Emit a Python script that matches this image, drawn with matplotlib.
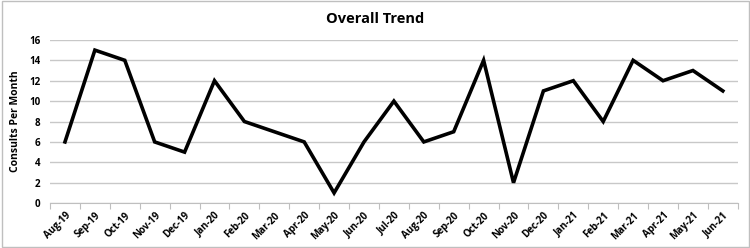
import matplotlib
matplotlib.use("Agg")
import matplotlib.pyplot as plt
from matplotlib.patches import Rectangle
import numpy as np

months = ["Aug-19", "Sep-19", "Oct-19", "Nov-19", "Dec-19", "Jan-20", "Feb-20", "Mar-20",
          "Apr-20", "May-20", "Jun-20", "Jul-20", "Aug-20", "Sep-20", "Oct-20", "Nov-20",
          "Dec-20", "Jan-21", "Feb-21", "Mar-21", "Apr-21", "May-21", "Jun-21"]
consults = [6, 15, 14, 6, 5, 12, 8, 7, 6, 1, 6, 10, 6, 7, 14, 2, 11, 12, 8, 14, 12, 13, 11]
yticks = [0, 2, 4, 6, 8, 10, 12, 14, 16]

plt.rcParams['font.family'] = ['Open Sans', 'DejaVu Sans']

fig = plt.figure(figsize=(7.5, 2.48), dpi=100)
ax = fig.add_axes([0.0667, 0.181, 0.917, 0.658])
x = np.arange(len(months))
ax.plot(x, consults, color='black', linewidth=2.6, solid_joinstyle='miter')
ax.set_xlim(-0.5, len(months) - 0.5)
ax.set_ylim(0, 16)
ax.set_yticks(yticks)
ax.set_yticklabels([str(v) for v in yticks], fontsize=7, fontweight='bold')
ax.set_xticks(x)
ax.set_xticklabels(months, rotation=45, ha='right', rotation_mode='anchor', fontsize=7, fontweight='bold')
ax.tick_params(axis='x', which='major', length=0, pad=5)
ax.set_xticks(np.arange(-0.5, len(months), 1), minor=True)
ax.tick_params(axis='x', which='minor', length=4, color='#bfbfbf', width=0.8)
ax.tick_params(axis='y', length=0, pad=7)
ax.grid(axis='y', color='#c8c8c8', linewidth=1)
ax.set_axisbelow(True)
for s in ['top', 'right', 'left']:
    ax.spines[s].set_visible(False)
ax.spines['bottom'].set_color('#bfbfbf')
ax.set_ylabel("Consults Per Month", fontsize=7.5, fontweight='bold', labelpad=6)
fig.text(0.5, 0.925, "Overall Trend", ha='center', va='center', fontsize=10.5, fontweight='bold')
fig.patches.append(Rectangle((0.002, 0.004), 0.996, 0.992, transform=fig.transFigure,
                             fill=False, edgecolor='#bfbfbf', linewidth=1))
fig.savefig("out.png", dpi=100)
